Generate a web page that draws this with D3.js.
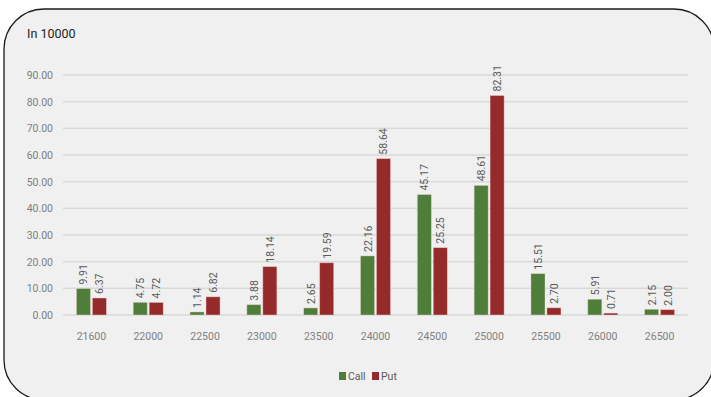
<!DOCTYPE html>
<html lang="en">
<head>
  <meta charset="UTF-8" />
  <title>Call / Put by strike</title>
  <script src="https://d3js.org/d3.v7.min.js"></script>
  <style>
    body { margin: 0; background: #fff; }
    svg { display: block; font-family: "Roboto", sans-serif; }
    .grid line { stroke: #d9d9d9; stroke-width: 1.5px; }
    .tick-label { fill: #7f7f7f; font-size: 10.5px; }
    .val { fill: #595959; font-size: 10.5px; }
  </style>
</head>
<body>
  <svg id="chart" width="711" height="397"></svg>
  <script>
    const strikes = ["21600", "22000", "22500", "23000", "23500", "24000", "24500", "25000", "25500", "26000", "26500"];
    const callValues = [9.91, 4.75, 1.14, 3.88, 2.65, 22.16, 45.17, 48.61, 15.51, 5.91, 2.15];
    const putValues = [6.37, 4.72, 6.82, 18.14, 19.59, 58.64, 25.25, 82.31, 2.70, 0.71, 2.00];
    const yTicks = [0, 10, 20, 30, 40, 50, 60, 70, 80, 90];
    const seriesNames = ["Call", "Put"];
    const colors = { Call: "#4f7e3a", Put: "#952a2a" };

    const svg = d3.select("#chart");

    // frame
    svg.append("rect")
      .attr("x", 4).attr("y", 9)
      .attr("width", 710).attr("height", 391)
      .attr("rx", 40).attr("ry", 40)
      .attr("fill", "#f0f0f0")
      .attr("stroke", "#1a1a1a")
      .attr("stroke-width", 1.3);

    svg.append("text")
      .attr("x", 27).attr("y", 38)
      .attr("font-size", 12.5)
      .attr("fill", "#222")
      .text("In 10000");

    const x = d3.scaleBand().domain(strikes).range([63, 688]);
    const y = d3.scaleLinear().domain([0, 90]).range([315, 75]);
    const inner = d3.scaleBand().domain(seriesNames).range([-15, 15]).paddingInner(0.12);

    const grid = svg.append("g").attr("class", "grid");
    grid.selectAll("line")
      .data(yTicks)
      .join("line")
      .attr("x1", 63).attr("x2", 688)
      .attr("y1", d => y(d)).attr("y2", d => y(d));

    svg.append("g").selectAll("text")
      .data(yTicks)
      .join("text")
      .attr("class", "tick-label")
      .attr("x", 53)
      .attr("y", d => y(d) + 4)
      .attr("text-anchor", "end")
      .text(d => d.toFixed(2));

    svg.append("g").selectAll("text")
      .data(strikes)
      .join("text")
      .attr("class", "tick-label")
      .attr("x", d => x(d) + x.bandwidth() / 2)
      .attr("y", 340)
      .attr("text-anchor", "middle")
      .text(d => d);

    const rows = strikes.map((s, i) => ({ strike: s, Call: callValues[i], Put: putValues[i] }));

    seriesNames.forEach(name => {
      const g = svg.append("g");
      g.selectAll("rect")
        .data(rows)
        .join("rect")
        .attr("x", d => x(d.strike) + x.bandwidth() / 2 + inner(name))
        .attr("width", inner.bandwidth())
        .attr("y", d => y(d[name]))
        .attr("height", d => y(0) - y(d[name]))
        .attr("fill", colors[name])
        .attr("stroke", "#f6dada")
        .attr("stroke-opacity", 0.5)
        .attr("stroke-width", 0.8);

      g.selectAll("text")
        .data(rows)
        .join("text")
        .attr("class", "val")
        .attr("transform", d => {
          const cx = x(d.strike) + x.bandwidth() / 2 + inner(name) + inner.bandwidth() / 2 + 4;
          return `translate(${cx},${y(d[name]) - 4}) rotate(-90)`;
        })
        .text(d => d[name].toFixed(2));
    });

    // legend
    const legend = svg.append("g").attr("transform", "translate(339,372)");
    const items = legend.selectAll("g")
      .data(seriesNames)
      .join("g")
      .attr("transform", (d, i) => `translate(${i * 33},0)`);
    items.append("rect")
      .attr("width", 7).attr("height", 8)
      .attr("fill", d => colors[d]);
    items.append("text")
      .attr("class", "val")
      .attr("x", 9).attr("y", 8)
      .text(d => d);
  </script>
</body>
</html>
